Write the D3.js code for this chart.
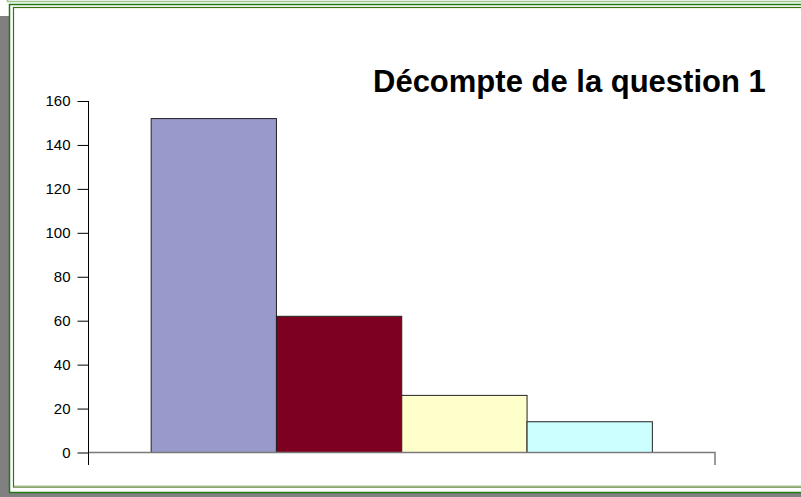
<!DOCTYPE html>
<html>
<head>
<meta charset="utf-8">
<script src="https://cdn.jsdelivr.net/npm/d3@7"></script>
<style>
  body { margin: 0; background: #fff; }
  text { font-family: "Liberation Sans", Arial, sans-serif; }
</style>
</head>
<body>
<script>
(function(){

//chart data
var series = ["Réponse 1", "Réponse 2", "Réponse 3", "Réponse 4"];
var values = [152, 62, 26, 14];
var colors = ["#9999cc", "#7e0021", "#ffffcc", "#ccffff"];
var yTicks = [0, 20, 40, 60, 80, 100, 120, 140, 160];
var title = "Décompte de la question 1";

//frame dimensions
var width = 801,
    height = 497;

var svg = d3.select("body")
    .append("svg")
    .attr("width", width)
    .attr("height", height);

//gray shadow behind the panel
svg.append("rect")
    .attr("x", 0).attr("y", 16)
    .attr("width", width).attr("height", height - 16)
    .attr("fill", "#808080");

//white panel with green borders
svg.append("rect")
    .attr("x", 9.5).attr("y", 4.5)
    .attr("width", width).attr("height", 488)
    .attr("fill", "#fff")
    .attr("stroke", "#1f7a10")
    .attr("stroke-width", 1.5);

svg.append("rect")
    .attr("x", 13.5).attr("y", 7.5)
    .attr("width", width).attr("height", 479.5)
    .attr("fill", "none")
    .attr("stroke", "#3f6f14")
    .attr("stroke-width", 1.2);

svg.append("line")
    .attr("x1", 14).attr("x2", width)
    .attr("y1", 485.8).attr("y2", 485.8)
    .attr("stroke", "#c8d6b0");

//light edge of the box above
svg.append("path")
    .attr("d", "M7.5,0V1.5H" + width)
    .attr("fill", "none")
    .attr("stroke", "#9cc48a")
    .attr("stroke-width", 1.5);

//plot area
var plot = { left: 88.5, right: 715, top: 101, bottom: 452.5 };

var y = d3.scaleLinear()
    .domain([0, 160])
    .range([plot.bottom, plot.top]);

var x = d3.scaleBand()
    .domain(series)
    .range([plot.left, plot.right])
    .paddingInner(0)
    .paddingOuter(0.5);

//bars
svg.selectAll(".bar")
    .data(values)
    .enter()
    .append("rect")
    .attr("class", "bar")
    .attr("x", function(d, i){ return x(series[i]); })
    .attr("y", function(d){ return y(d); })
    .attr("width", x.bandwidth())
    .attr("height", function(d){ return y(0) - y(d); })
    .attr("fill", function(d, i){ return colors[i]; })
    .attr("stroke", "#222")
    .attr("stroke-width", 1);

//x axis (gray line with end ticks)
svg.append("path")
    .attr("d", "M" + plot.left + "," + y(0) + "H" + plot.right + "V" + 465)
    .attr("fill", "none")
    .attr("stroke", "#7a7a7a")
    .attr("stroke-width", 1.5);

//y axis
var yAxis = d3.axisLeft(y)
    .tickValues(yTicks)
    .tickSize(11)
    .tickPadding(7)
    .tickSizeOuter(0);

var gy = svg.append("g")
    .attr("transform", "translate(" + plot.left + ",0)")
    .call(yAxis);

gy.select(".domain")
    .attr("d", "M0," + plot.top + "V465")
    .attr("stroke", "#000");

gy.selectAll(".tick line").attr("stroke", "#000");
gy.selectAll(".tick text")
    .attr("fill", "#000")
    .style("font-size", "15px")
    .style("font-family", "'Liberation Sans', Arial, sans-serif");

//title
svg.append("text")
    .attr("x", 373)
    .attr("y", 92)
    .style("font-size", "31px")
    .style("font-weight", "bold")
    .attr("fill", "#000")
    .text(title);

})();
</script>
</body>
</html>
